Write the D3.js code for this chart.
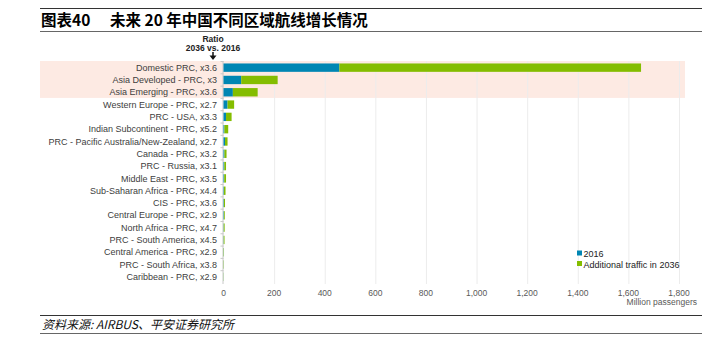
<!DOCTYPE html>
<html><head><meta charset="utf-8">
<script src="https://cdn.jsdelivr.net/npm/d3@7"></script>
<style>
body{margin:0;background:#fff;}
svg{display:block;font-family:"Liberation Sans",Arial,sans-serif;}
</style></head>
<body><svg id="c" width="724" height="357"></svg>
<script>
const categories = ["Domestic PRC, x3.6","Asia Developed - PRC, x3","Asia Emerging - PRC, x3.6","Western Europe - PRC, x2.7","PRC - USA, x3.3","Indian Subcontinent - PRC, x5.2","PRC - Pacific Australia/New-Zealand, x2.7","Canada - PRC, x3.2","PRC - Russia, x3.1","Middle East - PRC, x3.5","Sub-Saharan Africa - PRC, x4.4","CIS - PRC, x3.6","Central Europe - PRC, x2.9","North Africa - PRC, x4.7","PRC - South America, x4.5","Central America - PRC, x2.9","PRC - South Africa, x3.8","Caribbean - PRC, x2.9"];
const traffic2016 = [458, 70, 37, 16, 10, 3.6, 6, 3.7, 3.2, 2.8, 1.8, 1.7, 1.7, 1.0, 0.9, 0.7, 0.4, 0.35];
const additional2036 = [1192, 144, 98, 26, 22, 15, 10, 8.3, 6.8, 7.2, 6.2, 4.3, 3.3, 3.5, 3.1, 1.3, 1.1, 0.65];
const xTicks = [0,200,400,600,800,1000,1200,1400,1600,1800];
const highlighted = ["Domestic PRC, x3.6","Asia Developed - PRC, x3","Asia Emerging - PRC, x3.6"];
const seriesNames = ["2016","Additional traffic in 2036"];
const colors = ["#0086b3","#84bd00"];

const svg = d3.select("#c");
// header
svg.append("line").attr("x1",40).attr("x2",702).attr("y1",8.5).attr("y2",8.5).attr("stroke","#333").attr("stroke-width",1.2);
svg.append("line").attr("x1",40).attr("x2",702).attr("y1",31.5).attr("y2",31.5).attr("stroke","#666").attr("stroke-width",1.2);
svg.append("text").attr("x",41).attr("y",26).attr("font-size",15.5).attr("font-weight","bold")
  .attr("font-family","'Noto Sans CJK SC',sans-serif").text("图表40");
svg.append("text").attr("x",110).attr("y",26).attr("font-size",15.5).attr("font-weight","bold")
  .attr("font-family","'Noto Sans CJK SC',sans-serif").text("未来 20 年中国不同区域航线增长情况");

const x = d3.scaleLinear().domain([0,1800]).range([223.5,679]);
const y = d3.scaleBand().domain(categories).range([61.5,283]).paddingInner(0.32).paddingOuter(0.16);

// highlight
const hl = highlighted.map(c=>y(c));
svg.append("rect").attr("x",40).attr("width",645)
  .attr("y",d3.min(hl)-y.step()*y.paddingInner()/2-0.5)
  .attr("height",(d3.max(hl)-d3.min(hl))+y.step())
  .attr("fill","#fdeae3");

// grid
svg.append("g").selectAll("line").data(xTicks.slice(1)).join("line")
  .attr("x1",d=>x(d)+0.5).attr("x2",d=>x(d)+0.5).attr("y1",61).attr("y2",284)
  .attr("stroke","#ececec").attr("stroke-width",1);

// y axis line + ticks
svg.append("line").attr("x1",x(0)-0.5).attr("x2",x(0)-0.5).attr("y1",61).attr("y2",284).attr("stroke","#c8c8c8");
svg.append("g").selectAll("line").data(categories).join("line")
  .attr("x1",x(0)-3).attr("x2",x(0)).attr("y1",d=>y(d)-y.step()*y.paddingInner()/2).attr("y2",d=>y(d)-y.step()*y.paddingInner()/2)
  .attr("stroke","#c8c8c8");

// stacked bars
const rows = categories.map((c,i)=>({cat:c, a:traffic2016[i], b:additional2036[i]}));
const stack = d3.stack().keys(["a","b"])(rows);
svg.append("g").selectAll("g").data(stack).join("g").attr("fill",(d,i)=>colors[i])
  .selectAll("rect").data(d=>d).join("rect")
  .attr("x",d=>x(d[0])).attr("width",d=>Math.max(0,x(d[1])-x(d[0])))
  .attr("y",d=>y(d.data.cat)).attr("height",y.bandwidth());

// category labels
svg.append("g").selectAll("text").data(categories).join("text")
  .attr("x",217).attr("y",d=>y(d)+y.bandwidth()/2).attr("dy","0.35em")
  .attr("text-anchor","end").attr("font-size",9).attr("fill","#404040").text(d=>d);

// x tick labels
svg.append("g").selectAll("text").data(xTicks).join("text")
  .attr("x",d=>x(d)).attr("y",296).attr("text-anchor","middle").attr("font-size",8.5).attr("fill","#595959")
  .text(d=>d3.format(",")(d));
svg.append("text").attr("x",697).attr("y",305).attr("text-anchor","end").attr("font-size",8.5).attr("fill","#595959").text("Million passengers");

// ratio header
svg.append("text").attr("x",213).attr("y",42).attr("text-anchor","middle").attr("font-size",8.5).attr("font-weight","bold").attr("fill","#222").text("Ratio");
svg.append("text").attr("x",213).attr("y",51).attr("text-anchor","middle").attr("font-size",8.5).attr("font-weight","bold").attr("fill","#222").text("2036 vs. 2016");
svg.append("line").attr("x1",213).attr("x2",213).attr("y1",52).attr("y2",56).attr("stroke","#111").attr("stroke-width",1.5);
svg.append("path").attr("d","M209.5,55.5 L216.5,55.5 L213,60 Z").attr("fill","#111");

// legend
const lg = svg.append("g").selectAll("g").data(seriesNames).join("g")
  .attr("transform",(d,i)=>`translate(577,${254+i*10.5})`);
lg.append("rect").attr("x",0).attr("y",-3.5).attr("width",5).attr("height",5).attr("fill",(d,i)=>colors[i]);
lg.append("text").attr("x",6.5).attr("y",0).attr("dy","0.35em").attr("font-size",9).attr("fill","#222").text(d=>d);

// footer
svg.append("line").attr("x1",40).attr("x2",702).attr("y1",315.5).attr("y2",315.5).attr("stroke","#333").attr("stroke-width",1.2);
svg.append("line").attr("x1",40).attr("x2",702).attr("y1",333.5).attr("y2",333.5).attr("stroke","#666").attr("stroke-width",1.2);
svg.append("text").attr("x",42).attr("y",329).attr("font-size",12).attr("font-style","italic")
  .attr("font-family","'Noto Sans CJK SC',sans-serif").attr("fill","#111").text("资料来源: AIRBUS、平安证券研究所");
</script></body></html>
